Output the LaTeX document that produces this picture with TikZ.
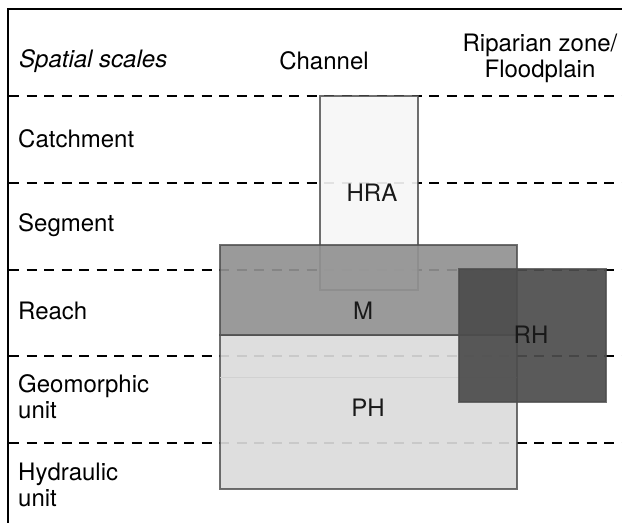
\documentclass[tikz,border=0pt]{standalone}
\usepackage{fontspec}
\setmainfont{TeX Gyre Heros}
\usepackage{tikz}
\usetikzlibrary{positioning}
\tikzset{
	scalelabel/.style={anchor=west,inner sep=0,font=\fontsize{24}{26}\selectfont,align=left},
	colhead/.style={inner sep=0,font=\fontsize{24}{26}\selectfont,align=center},
	scaleline/.style={line width=1.6pt,dash pattern=on 10pt off 7.5pt},
	frameline/.style={line width=2pt},
	area/.style={draw=black!70,line width=1.3pt,fill opacity=0.92,draw opacity=0.8},
	areatext/.style={inner sep=0,font=\fontsize{24}{26}\selectfont,text=black!90}
}
\begin{document}
\begin{tikzpicture}[x=1pt,y=-1pt]
		\useasboundingbox (0,0) rectangle (622,523);
		%%%frame
		\coordinate (tl) at (8,9);
		\coordinate (tr) at (622,9);
		\coordinate (bl) at (8,523);
		\draw[frameline] (tr) -- (tl) -- (bl);
		%%%scale lines
		\foreach \y/\n in {96/1,183/2,270/3,356/4,443/5}{
			\coordinate (l\n) at (9,\y);
			\coordinate (r\n) at (622,\y);
			\draw[scaleline] (l\n) -- (r\n);
		}
		%%%headers
		\node[scalelabel,font=\fontsize{24}{26}\selectfont\itshape] (spatial) at (19,61) {Spatial scales};
		\node[colhead] (channel) at (324,61) {Channel};
		\node[colhead] (riparian) at (540,58) {Riparian zone/\\Floodplain};
		%%%scales
		\node[scalelabel] (catchment) at (18,139) {Catchment};
		\node[scalelabel] (segment) at (18,225) {Segment};
		\node[scalelabel] (reach) at (18,311) {Reach};
		\node[scalelabel] (geomorphic) at (18,397) {Geomorphic\\unit};
		\node[scalelabel] (hydraulic) at (18,485) {Hydraulic\\unit};
		%%%areas
		\draw[area,fill=black!3.5] (320,96) rectangle (418,290);
		\draw[area,fill=black!14] (220,335) rectangle (517,489);
		\draw[black!18,line width=0.8pt] (220,377) -- (517,377);
		\draw[area,fill=black!43] (220,245) rectangle (517,335);
		\draw[area,fill=black!70] (459,269) rectangle (606,402);
		\node[areatext] (hra) at (372,193) {HRA};
		\node[areatext] (m) at (363,311) {M};
		\node[areatext] (ph) at (368,408) {PH};
		\node[areatext] (rh) at (531,335) {RH};
	\end{tikzpicture}
\end{document}
